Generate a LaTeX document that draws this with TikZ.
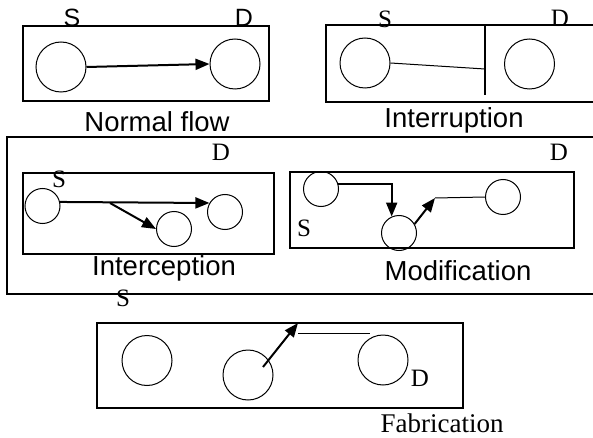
\documentclass[tikz,border=0pt]{standalone}
\usepackage{fontspec}
\setmainfont{Liberation Serif}
\setsansfont{Liberation Sans}
\usetikzlibrary{arrows.meta}
\begin{document}
\begin{tikzpicture}[x=1pt,y=-1pt,
  frame/.style={draw=black,line width=1.1pt},
  dot/.style={circle,draw=black,line width=1pt,inner sep=0pt},
  big/.style={dot,minimum size=50pt},
  small/.style={dot,minimum size=35pt},
  arr/.style={line width=2pt,-{Triangle[length=14pt,width=11pt]}},
  plain/.style={line width=1pt},
  lab/.style={anchor=base,inner sep=0pt,font=\sffamily\fontsize{27.5}{32}\selectfont},
  flab/.style={anchor=base,inner sep=0pt,font=\rmfamily\fontsize{27}{32}\selectfont},
  sd/.style={anchor=base,inner sep=0pt,font=\rmfamily\fontsize{25}{30}\selectfont},
  sdsans/.style={anchor=base,inner sep=0pt,font=\sffamily\fontsize{25}{30}\selectfont}]
\clip (0,0) rectangle (593,438);
\fill[white] (0,0) rectangle (593,438);
% frames
\draw[frame] (23,26) rectangle (269,101);
\draw[frame] (326,25) rectangle (600,102);
\draw[frame] (485,25) -- (485,95);
\draw[frame] (7,137) rectangle (600,294);
\draw[frame] (23,173) rectangle (274,254);
\draw[frame] (290,172) rectangle (574,248);
\draw[frame] (97,323) rectangle (463,408);
% Normal flow
\node[big] (s1) at (61,67) {};
\node[big] (d1) at (235,64) {};
\draw[arr] (s1.east) -- (d1.west);
\node[sdsans] (s1l) at (72,27) {S};
\node[sdsans] (d1l) at (244,27) {D};
\node[lab] (nf) at (157,132) {Normal flow};
% Interruption
\node[big] (s2) at (365,63) {};
\node[big] (d2) at (529.5,64) {};
\coordinate (cut2) at (485,69);
\draw[plain] (s2.east) -- (cut2);
\node[sd] (s2l) at (385,28) {S};
\node[sd] (d2l) at (560,27) {D};
\node[lab] (ir) at (454,128) {Interruption};
% Interception
\node[small] (s3) at (42.5,206) {};
\node[small] (d3) at (225,212) {};
\node[small] (m3) at (174,229) {};
\draw[arr] (s3.13) -- (d3.150);
\coordinate (b3) at (110,203);
\draw[arr] (b3) -- (m3.west);
\node[sd] (s3l) at (59,187) {S};
\node[sd] (d3l) at (221,161) {D};
\node[lab] (ic) at (164,275) {Interception};
% Modification
\node[small] (s4) at (321,189) {};
\node[small] (m4) at (399,233) {};
\node[small] (r4) at (503,197) {};
\draw[arr] (s4.15) -| (m4.114);
\coordinate (t4) at (435,198);
\draw[arr] (m4.30) -- (t4);
\draw[plain] (t4) -- (r4.west);
\node[sd] (s4l) at (304,236) {S};
\node[sd] (d4l) at (559,161) {D};
\node[lab] (md) at (458,280) {Modification};
% Fabrication
\node[big] (a5) at (147,360.5) {};
\node[big] (m5) at (248,375) {};
\node[big] (r5) at (383,360) {};
\coordinate (f5) at (263,367);
\coordinate (t5) at (298,323);
\coordinate (t5b) at (298,333);
\coordinate (e5) at (370,333);
\draw[arr] (f5) -- (t5);
\draw[plain] (t5b) -- (e5);
\node[sd] (s5l) at (123,306) {S};
\node[sd] (d5l) at (420,386) {D};
\node[flab] (fb) at (442,432) {Fabrication};
\end{tikzpicture}
\end{document}
